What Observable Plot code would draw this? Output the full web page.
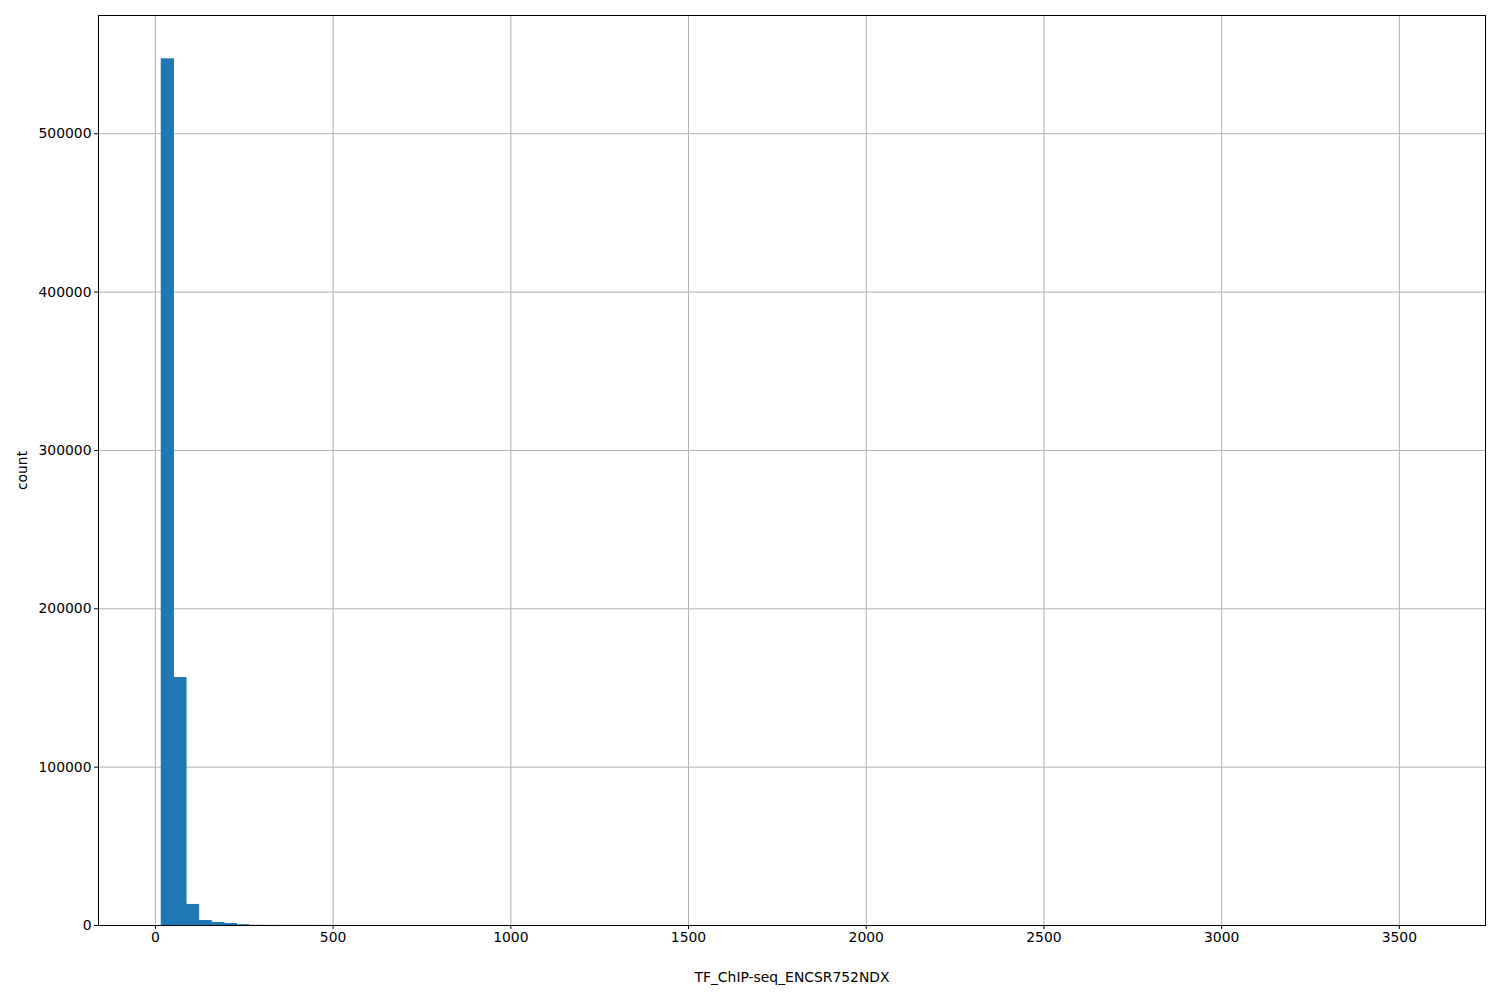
<!DOCTYPE html>
<html>
<head>
<meta charset="utf-8">
<script src="https://cdn.jsdelivr.net/npm/d3@7"></script>
<script src="https://cdn.jsdelivr.net/npm/@observablehq/plot@0.6"></script>
<style>
  html, body { margin: 0; padding: 0; background: #fff; }
  svg { font-family: "DejaVu Sans", sans-serif; }
</style>
</head>
<body>
<div id="chart"></div>
<script>
// Histogram: 100 equal bins between binMin and binMax
const binMin = 17.3;
const binMax = 3565;
const counts = [
  547300, 156600, 13300, 3150, 1900, 1250, 520, 140, 80, 50,
  30, 20, 14, 10, 8, 6, 5, 4, 3, 3,
  2, 2, 2, 1, 1, 1, 1, 1, 1, 1,
  1, 0, 1, 0, 0, 1, 0, 0, 0, 1,
  0, 0, 0, 0, 1, 0, 0, 0, 0, 0,
  0, 0, 1, 0, 0, 0, 0, 0, 0, 0,
  0, 0, 0, 0, 0, 0, 0, 0, 0, 0,
  0, 0, 0, 0, 0, 0, 0, 0, 0, 0,
  0, 0, 0, 0, 0, 0, 0, 0, 0, 0,
  0, 0, 0, 0, 0, 0, 0, 0, 0, 1
];
const xTicks = [0, 500, 1000, 1500, 2000, 2500, 3000, 3500];
const yTicks = [0, 100000, 200000, 300000, 400000, 500000];
const xLabel = "TF_ChIP-seq_ENCSR752NDX";
const yLabel = "count";

const binW = (binMax - binMin) / counts.length;
const bins = counts.map((c, i) => ({x1: binMin + i * binW, x2: binMin + (i + 1) * binW, count: c}));
const span = binMax - binMin;
const ymax = d3.max(counts) * 1.05;
const fmt = d => String(d);

const chart = Plot.plot({
  width: 1500,
  height: 1000,
  marginLeft: 98,
  marginRight: 15,
  marginTop: 15,
  marginBottom: 75,
  style: {fontSize: "13.9px", fontFamily: "DejaVu Sans, sans-serif", color: "#000", background: "#fff"},
  x: {domain: [binMin - 0.05 * span, binMax + 0.05 * span]},
  y: {domain: [0, ymax]},
  marks: [
    Plot.gridX(xTicks, {stroke: "#b0b0b0", strokeOpacity: 1, strokeWidth: 1}),
    Plot.gridY(yTicks, {stroke: "#b0b0b0", strokeOpacity: 1, strokeWidth: 1}),
    Plot.rectY(bins, {x1: "x1", x2: "x2", y: "count", fill: "#1f77b4", insetLeft: -0.3, insetRight: -0.3}),
    Plot.axisX(xTicks, {tickSize: 4, tickPadding: 3, label: null, fontSize: 13.9, tickFormat: fmt, stroke: "#000"}),
    Plot.axisY(yTicks, {tickSize: 4, tickPadding: 3, label: null, fontSize: 13.9, tickFormat: fmt, stroke: "#000"}),
    Plot.frame({stroke: "#000", strokeWidth: 1}),
    Plot.text([xLabel], {frameAnchor: "bottom", dy: 56, fontSize: 13.9, fill: "#000"}),
    Plot.text([yLabel], {frameAnchor: "left", dx: -76, rotate: -90, textAnchor: "middle", fontSize: 13.9, fill: "#000"})
  ]
});
document.getElementById("chart").appendChild(chart);
</script>
</body>
</html>
